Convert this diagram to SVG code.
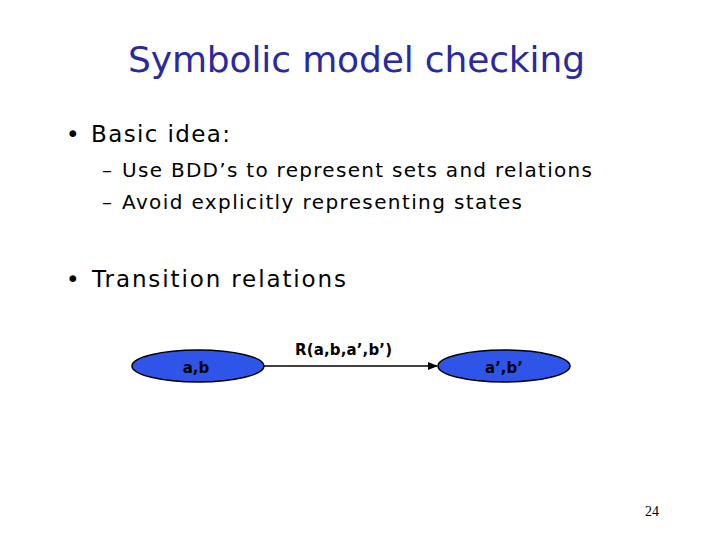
<svg xmlns="http://www.w3.org/2000/svg" width="720" height="540" viewBox="0 0 720 540">
<style>
text{font-family:"DejaVu Sans","Liberation Sans",sans-serif;}
.t{fill:#000;font-size:23px}
.s{fill:#000;font-size:20px}
.n{fill:#2f55e8;stroke:#000;stroke-width:1.5}
.l{font-size:15px;font-weight:bold;fill:#000}
</style>
<defs><marker id="a" markerWidth="10" markerHeight="8" refX="9" refY="4" orient="auto" markerUnits="userSpaceOnUse"><path d="M0,0 L10,4 L0,8 z" fill="#000"/></marker></defs>
<rect width="720" height="540" fill="#fff"/>
<text x="128" y="72" textLength="457" font-size="36" fill="#2a2aa0">Symbolic model checking</text>
<text x="66" y="142" class="t">•</text>
<text x="91" y="142" class="t" textLength="139">Basic idea:</text>
<text x="102" y="177" class="s">–</text>
<text x="122" y="177" class="s" textLength="470">Use BDD’s to represent sets and relations</text>
<text x="102" y="209" class="s">–</text>
<text x="122" y="209" class="s" textLength="400">Avoid explicitly representing states</text>
<text x="66" y="287" class="t">•</text>
<text x="92" y="287" class="t" textLength="254">Transition relations</text>
<g id="connectors"><line x1="264" y1="366" x2="437" y2="366" stroke="#000" stroke-width="1.5" marker-end="url(#a)"/></g>
<text x="295" y="355" textLength="97" class="l">R(a,b,a’,b’)</text>
<g id="n1"><ellipse cx="198" cy="366" rx="66" ry="16" class="n"/><text x="196" y="373" text-anchor="middle" class="l">a,b</text></g>
<g id="n2"><ellipse cx="504" cy="366" rx="66" ry="16" class="n"/><text x="504" y="373" text-anchor="middle" class="l">a’,b’</text></g>
<text x="652" y="516" text-anchor="middle" font-size="14" style="font-family:'Liberation Serif',serif">24</text>
</svg>
